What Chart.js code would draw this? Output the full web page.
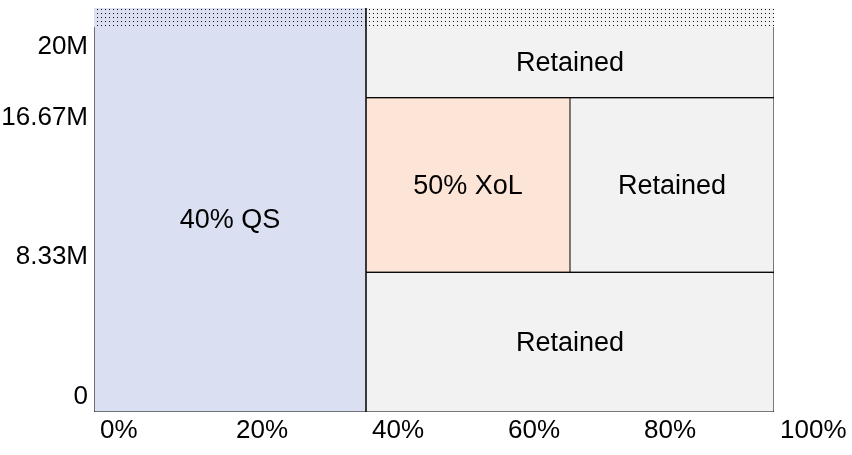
<!DOCTYPE html>
<html>
<head>
<meta charset="utf-8">
<title>Reinsurance layers</title>
<script src="https://cdn.jsdelivr.net/npm/chart.js"></script>
<style>
  html, body { margin: 0; padding: 0; background: #fff; }
  #wrap { width: 852px; height: 455px; }
</style>
</head>
<body>
<div id="wrap"><canvas id="chart"></canvas></div>
<script>
// Layers: share of the loss (%) and loss band (millions)
const layerNames = ["40% QS", "50% XoL", "Retained", "Retained", "Retained"];
const shareFrom = [0, 40, 70, 40, 40];
const shareTo = [40, 70, 100, 100, 100];
const lossFrom = [0, 8.33, 8.33, 0, 16.67];
const lossTo = [20, 16.67, 16.67, 8.33, 20];

const limit = 20; // programme limit, the band above it is hatched
const unlimitedTop = 21;

const xTicks = [0, 20, 40, 60, 80, 100];
const yTicks = [0, 8.33, 16.67, 20];
const yTickLabels = ["0", "8.33M", "16.67M", "20M"];

// styling
const layerColors = ["#dae0f2", "#fce4d6", "#f2f2f2", "#f2f2f2", "#f2f2f2"];
const FONT = "'Liberation Sans', Arial, sans-serif";

// the picture is schematic: each band gets its own height on the axis
const stopValues = yTicks.concat([unlimitedTop]);
const dataFractions = [0, 0.3458, 0.778, 0.953, 1];
const labelFractions = [0.037, 0.383, 0.729, 0.904, 1];

class LayerScale extends Chart.LinearScale {
  toDecimal(value) {
    const v = this.options.stopValues;
    const f = this.options.stopFractions;
    if (value <= v[0]) return f[0];
    for (let i = 1; i < v.length; i++) {
      if (value <= v[i]) {
        const t = (value - v[i - 1]) / (v[i] - v[i - 1]);
        return f[i - 1] + t * (f[i] - f[i - 1]);
      }
    }
    return f[f.length - 1];
  }
  getPixelForValue(value) {
    if (value === null || isNaN(value)) return NaN;
    return this.getPixelForDecimal(this.toDecimal(value));
  }
  getValueForPixel(pixel) {
    const d = this.getDecimalForPixel(pixel);
    const v = this.options.stopValues;
    const f = this.options.stopFractions;
    for (let i = 1; i < f.length; i++) {
      if (d <= f[i]) {
        const t = (d - f[i - 1]) / (f[i] - f[i - 1]);
        return v[i - 1] + t * (v[i] - v[i - 1]);
      }
    }
    return v[v.length - 1];
  }
}
LayerScale.id = "layer";
LayerScale.defaults = Chart.LinearScale.defaults;
Chart.register(LayerScale);

// dotted pattern for the band above the limit
function makeDots() {
  const c = document.createElement("canvas");
  c.width = 4;
  c.height = 4;
  const g = c.getContext("2d");
  g.fillStyle = "#111";
  g.fillRect(1, 1, 1, 1);
  return g.createPattern(c, "repeat");
}

// outline segments of the boxes, without the edge at the limit
function buildEdges() {
  const seen = {};
  const edges = [];
  const add = (x0, y0, x1, y1) => {
    const key = [x0, y0, x1, y1].join(",");
    if (seen[key]) return;
    seen[key] = true;
    edges.push([x0, y0, x1, y1]);
  };
  layerNames.forEach((name, i) => {
    const open = lossTo[i] >= limit;
    const sideTop = (x) => (open && x > 0 && x < 100 ? unlimitedTop : lossTo[i]);
    add(shareFrom[i], lossFrom[i], shareTo[i], lossFrom[i]);
    add(shareFrom[i], lossFrom[i], shareFrom[i], sideTop(shareFrom[i]));
    add(shareTo[i], lossFrom[i], shareTo[i], sideTop(shareTo[i]));
    if (!open) add(shareFrom[i], lossTo[i], shareTo[i], lossTo[i]);
  });
  return edges;
}

const datasets = [];
layerNames.forEach((name, i) => {
  const top = lossTo[i] >= limit ? unlimitedTop : lossTo[i];
  datasets.push({
    label: name,
    data: [{ x: shareFrom[i], y: top }, { x: shareTo[i], y: top }],
    showLine: true,
    borderWidth: 0,
    pointRadius: 0,
    backgroundColor: layerColors[i],
    fill: { value: lossFrom[i] },
    order: 3,
  });
});
datasets.push({
  label: "above limit",
  data: [{ x: 0, y: unlimitedTop }, { x: 100, y: unlimitedTop }],
  showLine: true,
  borderWidth: 0,
  pointRadius: 0,
  backgroundColor: makeDots(),
  fill: { value: limit },
  order: 2,
});
buildEdges().forEach((e) => {
  datasets.push({
    data: [{ x: e[0], y: e[1] }, { x: e[2], y: e[3] }],
    showLine: true,
    borderColor: "#000",
    borderWidth: 1,
    pointRadius: 0,
    fill: false,
    order: 1,
  });
});

// names written in the middle of each box
const layerLabels = {
  id: "layerLabels",
  afterDatasetsDraw(chart) {
    const { ctx } = chart;
    const x = chart.scales.x;
    const y = chart.scales.y;
    ctx.save();
    ctx.fillStyle = "#000";
    ctx.font = "27px " + FONT;
    ctx.textAlign = "center";
    ctx.textBaseline = "middle";
    layerNames.forEach((name, i) => {
      const cx = (x.getPixelForValue(shareFrom[i]) + x.getPixelForValue(shareTo[i])) / 2;
      const cy = (y.getPixelForValue(lossFrom[i]) + y.getPixelForValue(lossTo[i])) / 2;
      ctx.fillText(name, cx, cy + 1.5);
    });
    ctx.restore();
  },
};

new Chart(document.getElementById("chart"), {
  type: "scatter",
  data: { datasets },
  plugins: [layerLabels],
  options: {
    responsive: true,
    maintainAspectRatio: false,
    animation: false,
    events: [],
    layout: { padding: { top: 8, right: 78, bottom: 0, left: 0 } },
    plugins: {
      legend: { display: false },
      tooltip: { enabled: false },
    },
    scales: {
      x: {
        type: "linear",
        min: 0,
        max: 100,
        grid: { display: false, drawTicks: false },
        border: { display: false },
        afterBuildTicks: (s) => {
          s.ticks = xTicks.map((v) => ({ value: v }));
        },
        afterFit: (s) => {
          s.height = 43;
          s.paddingLeft = 0;
          s.paddingRight = 0;
        },
        ticks: {
          autoSkip: false,
          align: "start",
          labelOffset: 6,
          padding: 3,
          color: "#000",
          font: { family: FONT, size: 26 },
          callback: (v) => v + "%",
        },
      },
      y: {
        type: "layer",
        display: false,
        min: 0,
        max: unlimitedTop,
        stopValues: stopValues,
        stopFractions: dataFractions,
      },
      yl: {
        type: "layer",
        position: "left",
        min: 0,
        max: unlimitedTop,
        stopValues: stopValues,
        stopFractions: labelFractions,
        grid: { display: false, drawTicks: false },
        border: { display: false },
        afterBuildTicks: (s) => {
          s.ticks = yTicks.map((v) => ({ value: v }));
        },
        afterFit: (s) => {
          s.width = 94;
          s.paddingTop = 0;
          s.paddingBottom = 0;
        },
        ticks: {
          autoSkip: false,
          padding: 6,
          color: "#000",
          font: { family: FONT, size: 26 },
          callback: (v, i) => yTickLabels[i],
        },
      },
    },
  },
});
</script>
</body>
</html>
